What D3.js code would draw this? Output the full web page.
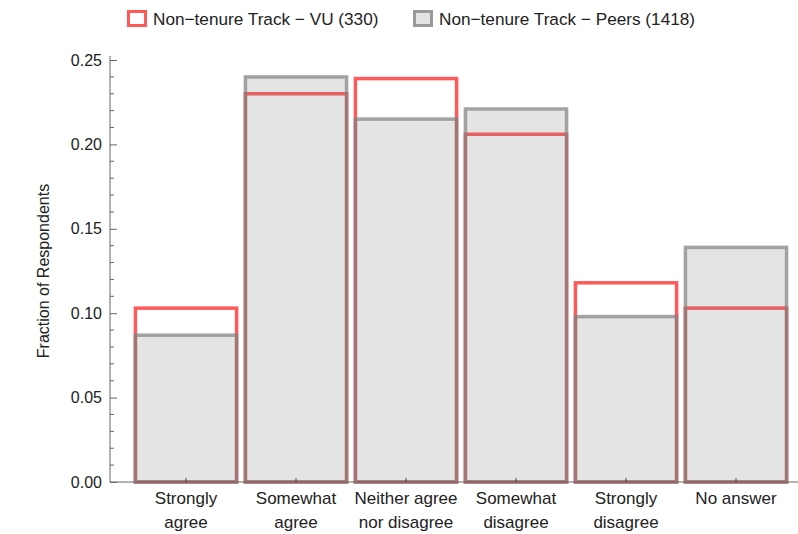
<!DOCTYPE html>
<html><head><meta charset="utf-8">
<script src="https://cdn.jsdelivr.net/npm/d3@7"></script>
<style>body{margin:0;background:#fff;} text{font-family:"Liberation Sans",Arial,sans-serif;}</style>
</head><body><svg id="c" width="798" height="534"></svg>
<script>
const categories = [["Strongly","agree"],["Somewhat","agree"],["Neither agree","nor disagree"],["Somewhat","disagree"],["Strongly","disagree"],["No answer"]];
const vuValues = [0.103, 0.230, 0.239, 0.206, 0.118, 0.103];
const peerValues = [0.087, 0.240, 0.215, 0.221, 0.098, 0.139];
const seriesNames = ["Non\u2212tenure Track \u2212 VU (330)", "Non\u2212tenure Track \u2212 Peers (1418)"];
const yMajorTicks = [0, 0.05, 0.10, 0.15, 0.20, 0.25];

const svg = d3.select("#c");
const keys = categories.map((d,i)=>i);
const x = d3.scaleBand().domain(keys).range([131, 791]).paddingInner(0.08).paddingOuter(0.04);
const y = d3.scaleLinear().domain([0, 0.25]).range([482, 60]);

// VU bars (red outline)
svg.append("g").selectAll("rect").data(vuValues).join("rect")
  .attr("x",(d,i)=>x(i)).attr("width",x.bandwidth())
  .attr("y",d=>y(d)).attr("height",d=>y(0)-y(d))
  .attr("fill","none").attr("stroke","#ff5a5a").attr("stroke-width",3.5);
// Peers bars (gray translucent)
svg.append("g").selectAll("rect").data(peerValues).join("rect")
  .attr("x",(d,i)=>x(i)).attr("width",x.bandwidth())
  .attr("y",d=>y(d)).attr("height",d=>y(0)-y(d))
  .attr("fill","rgba(128,128,128,0.21)").attr("stroke","rgba(128,128,128,0.7)").attr("stroke-width",3.5);

// Y axis
const yAxis = d3.axisLeft(y).tickValues(yMajorTicks).tickFormat(d3.format(".2f")).tickSizeInner(-7).tickSizeOuter(0).tickPadding(8);
const gy = svg.append("g").attr("transform","translate(110,0)").call(yAxis);
gy.select(".domain").remove();
gy.selectAll(".tick line").attr("stroke","#666");
gy.selectAll(".tick text").attr("font-size",16).attr("fill","#222").attr("font-family","Liberation Sans, Arial, sans-serif");
const minor = d3.range(0, 0.2501, 0.01).filter(v => Math.abs(v*20 - Math.round(v*20)) > 1e-6);
gy.selectAll(".minor").data(minor).join("line").attr("class","minor")
  .attr("x1",0).attr("x2",4).attr("y1",d=>y(d)).attr("y2",d=>y(d)).attr("stroke","#666");
svg.append("line").attr("x1",110).attr("x2",110).attr("y1",56).attr("y2",482).attr("stroke","#666");

// X axis
svg.append("line").attr("x1",110).attr("x2",798).attr("y1",482).attr("y2",482).attr("stroke","#666");
const gx = svg.append("g");
keys.forEach(i=>{
  const cx = x(i)+x.bandwidth()/2;
  gx.append("line").attr("x1",cx).attr("x2",cx).attr("y1",482).attr("y2",478).attr("stroke","#444");
  const t = gx.append("text").attr("x",cx).attr("y",504).attr("text-anchor","middle").attr("font-size",17).attr("fill","#222");
  categories[i].forEach((s,j)=>t.append("tspan").attr("x",cx).attr("dy",j?24:0).text(s));
});

// Y label
svg.append("text").attr("transform","translate(49,271) rotate(-90)").attr("text-anchor","middle")
  .attr("font-size",16).attr("fill","#222").text("Fraction of Respondents");

// Legend
const lg = svg.append("g");
lg.append("rect").attr("x",128.5).attr("y",11.5).attr("width",17).attr("height",14).attr("fill","#fff").attr("stroke","#ff5a5a").attr("stroke-width",3);
lg.append("text").attr("x",153).attr("y",25).attr("font-size",17.2).attr("fill","#222").text(seriesNames[0]);
lg.append("rect").attr("x",414.5).attr("y",11.5).attr("width",17).attr("height",14).attr("fill","#e4e4e4").attr("stroke","#999").attr("stroke-width",3);
lg.append("text").attr("x",439).attr("y",25).attr("font-size",17.2).attr("fill","#222").text(seriesNames[1]);
</script></body></html>
